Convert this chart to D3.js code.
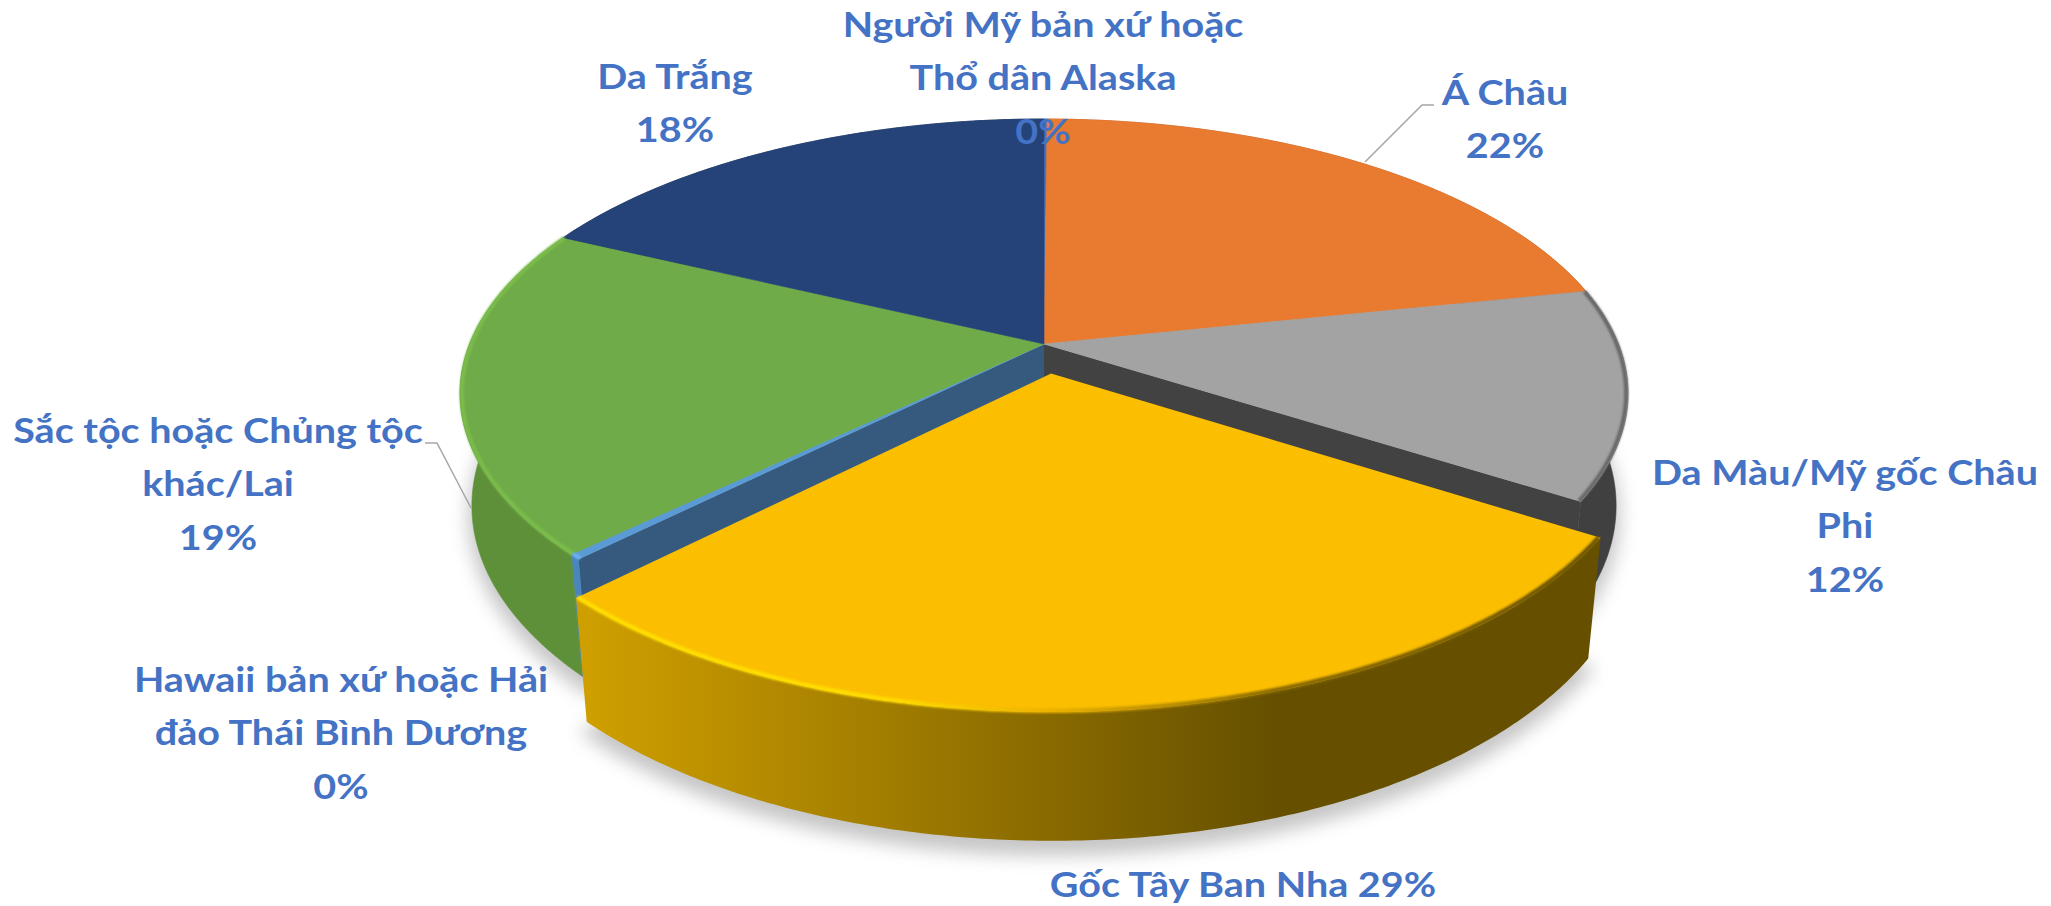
<!DOCTYPE html>
<html lang="vi">
<head>
<meta charset="utf-8">
<script src="https://cdn.jsdelivr.net/npm/d3@7/dist/d3.min.js"></script>
<style>
html,body{margin:0;padding:0;background:#fff;overflow:hidden}
text{font-family:Lato,"Noto Sans",sans-serif;font-weight:700;fill:#4472c4;text-anchor:middle}
</style>
</head>
<body>
<svg id="chart" width="2051" height="906"></svg>
<script>
// ---- data ----
const categories = ["Người Mỹ bản xứ hoặc Thổ dân Alaska","Á Châu","Da Màu/Mỹ gốc Châu Phi","Gốc Tây Ban Nha","Hawaii bản xứ hoặc Hải đảo Thái Bình Dương","Sắc tộc hoặc Chủng tộc khác/Lai","Da Trắng"];
const values = [0.1,21.6,12.3,28.5,0.3,19.3,17.9];
const topColors = ["#4472c4","#e97b31","#a3a3a3","#fbbe00","#5b9bd5","#6fab48","#254378"];
const wallColors = ["#3a62a8","#a85820","#404040","#8f6e00","#4a86bd","#5e9039","#1a3055"];
const explode = [0,0,0,0.11,0,0,0];

// ---- label layout (wrapped lines, anchor, first baseline) ----
const labelLines = [
  ["Người Mỹ bản xứ hoặc","Thổ dân Alaska"],["Á Châu"],["Da Màu/Mỹ gốc Châu","Phi"],[],
  ["Hawaii bản xứ hoặc Hải","đảo Thái Bình Dương"],["Sắc tộc hoặc Chủng tộc","khác/Lai"],["Da Trắng"]];
const labelX = [1043,1505,1845,1243,341,218,675];
const labelY = [37,105,485,897,692,443,89];
const lineGap = 53.3;
const textStretch = 1.13;
const leaders = [
  [[1365,162],[1422,105],[1434,105]],
  [[471,508],[437,443],[425,443]]
];

// ---- projection of the tilted disc ----
const cx=1044, cy=344, ax=574.4, ay=265.5, persp=0.18, persp2=0.02, depth=113;
const xS=d3.scaleLinear().domain([-1,1]).range([cx-ax,cx+ax]);
const yS=d3.scaleLinear().domain([-1,1]).range([cy+ay,cy-ay]);
function project(u,v,z){const w=1+persp*v+persp2*z;return [xS(u/w),yS(v/w)+depth*z/w];}
const polar=(a,r,off)=>[r*Math.sin(a)+off[0],r*Math.cos(a)+off[1]];

const arcs=d3.pie().sort(null).value(d=>d)(values).map((d,i)=>{
  const mid=(d.startAngle+d.endAngle)/2,e=explode[i];
  return {...d,i,off:[e*Math.sin(mid),e*Math.cos(mid)]};
});
const line=d3.line();
const samples=(d)=>{const n=Math.max(2,Math.ceil((d.endAngle-d.startAngle)/0.01));
  return d3.range(n+1).map(k=>d.startAngle+(d.endAngle-d.startAngle)*k/n);};
const rimPts=(d,z,r=1)=>samples(d).map(a=>{const p=polar(a,r,d.off);return project(p[0],p[1],z);});
const wedge=(d,z)=>line([project(d.off[0],d.off[1],z),...rimPts(d,z)])+"Z";
const wall=d=>line([...rimPts(d,0),...rimPts(d,1).reverse()])+"Z";
const cut=(d,a)=>{const p=polar(a,1,d.off);
  return line([project(d.off[0],d.off[1],0),project(p[0],p[1],0),project(p[0],p[1],1),project(d.off[0],d.off[1],1)])+"Z";};

const svg=d3.select("#chart");
const defs=svg.append("defs");
defs.append("filter").attr("id","shadow").attr("x","-10%").attr("y","-10%").attr("width","120%").attr("height","125%")
  .append("feGaussianBlur").attr("stdDeviation",9);
defs.append("filter").attr("id","soft").attr("filterUnits","userSpaceOnUse").attr("x",0).attr("y",0).attr("width",2051).attr("height",906)
  .append("feGaussianBlur").attr("stdDeviation",0.9);
function grad(id,stops){
  const g=defs.append("linearGradient").attr("id",id).attr("gradientUnits","userSpaceOnUse")
    .attr("x1",588).attr("x2",1596).attr("y1",0).attr("y2",0);
  stops.forEach(s=>g.append("stop").attr("offset",s[0]).attr("stop-color",s[1]));
}
grad("yellowWall",[[0,"#cf9f00"],[0.68,"#665000"],[1,"#665000"]]);
grad("yellowRim",[[0,"#ffdf00"],[0.3,"#ffdc00"],[0.45,"#eeb400"],[0.68,"#8a6b00"],[1,"#6a5200"]]);

// shadow
const sh=svg.append("g").attr("filter","url(#shadow)").attr("transform","translate(0,7)").attr("opacity",0.42);
sh.selectAll("path").data(arcs).join("path").attr("d",d=>wedge(d,1.03)).attr("fill","#777").attr("stroke","#777").attr("stroke-width",8);

const base=arcs.filter(d=>explode[d.i]===0);
const popped=arcs.filter(d=>explode[d.i]>0);
const hawaii=arcs[4], gray=arcs[2];

// walls of the unexploded slices
svg.append("g").selectAll("path").data(base).join("path")
  .attr("d",wall).attr("fill",d=>wallColors[d.i]).attr("stroke",d=>wallColors[d.i]).attr("stroke-width",0.6);
// faces exposed by the pulled-out slice
svg.append("path").attr("d",cut(gray,gray.endAngle)).attr("fill","#424242");
svg.append("path").attr("d",cut(hawaii,hawaii.startAngle)).attr("fill","#355a7e");
// top faces
svg.append("g").selectAll("path").data(base).join("path")
  .attr("d",d=>wedge(d,0)).attr("fill",d=>topColors[d.i]).attr("stroke",d=>topColors[d.i]).attr("stroke-width",0.6);
// rim bevels
svg.append("path").attr("d",line(rimPts(arcs[5],0,0.997))).attr("fill","none").attr("stroke","#7bbd4c").attr("stroke-width",4).attr("filter","url(#soft)");
svg.append("path").attr("d",line(rimPts(gray,0,0.997))).attr("fill","none").attr("stroke","#666").attr("stroke-width",4).attr("filter","url(#soft)");
svg.append("path").attr("d",line(rimPts(hawaii,0,0.997))).attr("fill","none").attr("stroke","#6cb0ee").attr("stroke-width",4).attr("filter","url(#soft)");
// exploded slice
svg.append("g").selectAll("path").data(popped).join("path").attr("d",wall).attr("fill","url(#yellowWall)");
svg.append("g").selectAll("path").data(popped).join("path").attr("d",d=>wedge(d,0)).attr("fill",d=>topColors[d.i]);
svg.append("g").selectAll("path").data(popped).join("path").attr("d",d=>line(rimPts(d,0,0.997))).attr("fill","none")
  .attr("stroke","url(#yellowRim)").attr("stroke-width",4.5).attr("filter","url(#soft)");

// leader lines
svg.append("g").selectAll("path").data(leaders).join("path")
  .attr("d",d=>line(d)).attr("fill","none").attr("stroke","#a6a6a6").attr("stroke-width",1.5);

// labels
const fmt=v=>d3.format(".0f")(v)+"%";
const lab=svg.append("g").attr("font-size",35);
const put=(t,x,y)=>lab.append("text").attr("transform",`translate(${x},${y}) scale(${textStretch},1)`).text(t);
arcs.forEach(d=>{
  const i=d.i;
  if(labelLines[i].length===0){
    put(categories[i]+" "+fmt(values[i]),labelX[i],labelY[i]);
    return;
  }
  [...labelLines[i],fmt(values[i])].forEach((t,k)=>put(t,labelX[i],labelY[i]+k*lineGap));
});
</script>
</body>
</html>
